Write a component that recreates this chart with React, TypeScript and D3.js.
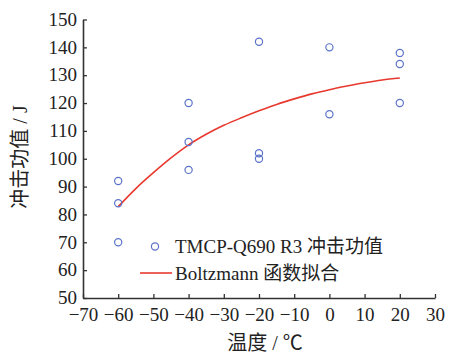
import { useRef, useEffect } from 'react';
import * as d3 from 'd3';

const WIDTH = 451;
const HEIGHT = 357;

// measured impact energy (J) at each test temperature (°C)
const tempPoints = [-60, -60, -60, -40, -40, -40, -20, -20, -20, 0, 0, 20, 20, 20];
const energyPoints = [92, 84, 70, 120, 106, 96, 142, 102, 100, 140, 116, 138, 134, 120];

// Boltzmann fit curve
const fitTemps = [-60, -55, -50, -45, -40, -35, -30, -25, -20, -15, -10, -5, 0, 5, 10, 15, 20];
const fitValues = [82.8, 89.3, 95, 100.3, 105, 108.8, 112, 114.7, 117.2, 119.5, 121.5, 123.3, 124.8, 126.1, 127.3, 128.3, 129];

const xTicks = [-70, -60, -50, -40, -30, -20, -10, 0, 10, 20, 30];
const yTicks = [50, 60, 70, 80, 90, 100, 110, 120, 130, 140, 150];

const legendLabels = ['TMCP-Q690 R3 冲击功值', 'Boltzmann 函数拟合'];

const FONT = '"Liberation Serif", "Noto Sans CJK SC", serif';
const AXIS = '#333';
const BLUE = '#5b73c8';
const RED = '#e8392e';

export default function App() {
  const svgRef = useRef<SVGSVGElement>(null);

  useEffect(() => {
    if (!svgRef.current) return;
    const svg = d3.select(svgRef.current);
    svg.selectAll('*').remove();

    const x = d3.scaleLinear().domain([-70, 30]).range([83, 435]);
    const y = d3.scaleLinear().domain([50, 150]).range([298, 19.5]);

    const fmt = (v: number) => (v < 0 ? '\u2212' + Math.abs(v) : String(v));

    // x axis, ticks pointing inwards
    const gx = svg.append('g').attr('transform', `translate(0,${y(50)})`);
    gx.call(d3.axisBottom(x).tickValues(xTicks).tickSize(-4).tickSizeOuter(0).tickFormat((d) => fmt(+d)));
    gx.attr('font-family', null).attr('font-size', null);
    gx.select('.domain').attr('stroke', AXIS).attr('stroke-width', 1.6);
    gx.selectAll('.tick line').attr('stroke', AXIS).attr('stroke-width', 1.3);
    gx.selectAll('.tick text')
      .style('font-family', FONT)
      .style('font-size', '19px')
      .attr('fill', '#222')
      .attr('y', 10);

    // y axis
    const gy = svg.append('g').attr('transform', `translate(${x(-70)},0)`);
    gy.call(d3.axisLeft(y).tickValues(yTicks).tickSize(-4).tickSizeOuter(0));
    gy.attr('font-family', null).attr('font-size', null);
    gy.select('.domain').attr('stroke', AXIS).attr('stroke-width', 1.6);
    gy.selectAll('.tick line').attr('stroke', AXIS).attr('stroke-width', 1.3);
    gy.selectAll('.tick text')
      .style('font-family', FONT)
      .style('font-size', '19px')
      .attr('fill', '#222')
      .attr('x', -6)
      .attr('dy', '0.3em');

    // fit line
    const fitData = fitTemps.map((t, i) => ({ t, v: fitValues[i] }));
    const line = d3.line<{ t: number; v: number }>()
      .x((d) => x(d.t))
      .y((d) => y(d.v))
      .curve(d3.curveMonotoneX);
    svg.append('path')
      .datum(fitData)
      .attr('fill', 'none')
      .attr('stroke', RED)
      .attr('stroke-width', 1.6)
      .attr('d', line);

    // measured points
    svg.append('g')
      .selectAll('circle')
      .data(tempPoints.map((t, i) => ({ t, v: energyPoints[i] })))
      .join('circle')
      .attr('cx', (d) => x(d.t))
      .attr('cy', (d) => y(d.v))
      .attr('r', 3.6)
      .attr('fill', 'none')
      .attr('stroke', BLUE)
      .attr('stroke-width', 1.2);

    // legend
    const lg = svg.append('g');
    lg.append('circle')
      .attr('cx', 155).attr('cy', 246.5).attr('r', 3.6)
      .attr('fill', 'none').attr('stroke', BLUE).attr('stroke-width', 1.2);
    lg.append('text')
      .attr('x', 175).attr('y', 253)
      .style('font-family', FONT).style('font-size', '19px').attr('fill', '#222')
      .text(legendLabels[0]);
    lg.append('line')
      .attr('x1', 140).attr('x2', 172).attr('y1', 273).attr('y2', 273)
      .attr('stroke', RED).attr('stroke-width', 1.6);
    lg.append('text')
      .attr('x', 175).attr('y', 280)
      .style('font-family', FONT).style('font-size', '19px').attr('fill', '#222')
      .text(legendLabels[1]);

    // axis titles
    svg.append('text')
      .attr('x', 265).attr('y', 350)
      .attr('text-anchor', 'middle')
      .style('font-family', FONT).style('font-size', '20px').attr('fill', '#222')
      .text('温度 / ℃');
    svg.append('text')
      .attr('transform', 'translate(27,157) rotate(-90)')
      .attr('text-anchor', 'middle')
      .style('font-family', FONT).style('font-size', '20px').attr('fill', '#222')
      .text('冲击功值 / J');
  }, []);

  return (
    <svg
      ref={svgRef}
      width={WIDTH}
      height={HEIGHT}
      style={{ position: 'absolute', left: 0, top: 0, background: '#fff' }}
    />
  );
}
